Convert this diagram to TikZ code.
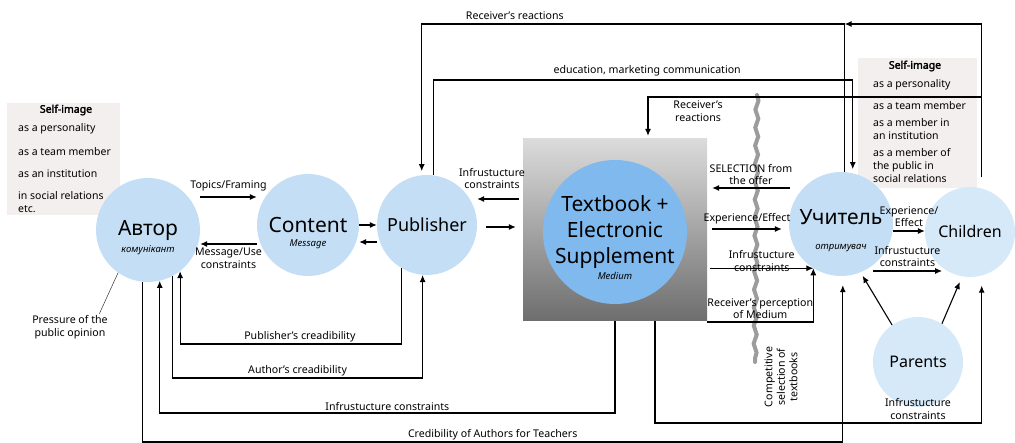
\documentclass[tikz,border=0pt]{standalone}
\usepackage{fontspec}
\setmainfont{Noto Sans}[AutoFakeBold=2.5]
\usetikzlibrary{positioning, arrows.meta, decorations.pathmorphing}
\definecolor{bubble}{HTML}{C4DFF5}
\definecolor{bubblelt}{HTML}{D6E9F9}
\definecolor{mediumblue}{HTML}{80B9EE}
\definecolor{selfbg}{HTML}{F3EFEE}
\definecolor{wavegray}{HTML}{9C9C9C}

\begin{document}
\begin{tikzpicture}[x=1pt, y=-1pt,
    bub/.style={circle, fill=bubble, inner sep=0pt},
    bublt/.style={circle, fill=bubblelt, inner sep=0pt},
    big/.style={font=\fontsize{21}{25}\selectfont},
    sub/.style={font=\fontsize{9.5}{11}\selectfont\itshape},
    lbl/.style={font=\fontsize{10.6}{12.5}\selectfont, align=center, inner sep=1.5pt},
    selfbox/.style={fill=selfbg, inner sep=0pt},
    selfhd/.style={font=\fontsize{10.5}{12}\selectfont\bfseries, inner sep=0pt},
    selfit/.style={font=\fontsize{10.5}{13}\selectfont, anchor=west, align=left, inner sep=0pt},
    arr/.style={line width=1.1pt, -{Latex[length=7pt,width=6pt]}},
    thinln/.style={line width=0.5pt, draw=black!80}]

  \useasboundingbox (0,0) rectangle (1015,443);

  % rows of the connectors
  \coordinate (rowR) at (0,24);
  \coordinate (rowEd) at (0,80);
  \coordinate (rowRR) at (0,97);
  \coordinate (rowS) at (0,188);
  \coordinate (rowT) at (0,197);
  \coordinate (rowIP) at (0,199);
  \coordinate (rowPT) at (0,227);
  \coordinate (rowE) at (0,229);
  \coordinate (rowCE) at (0,231);
  \coordinate (rowPC) at (0,242);
  \coordinate (rowM) at (0,244);
  \coordinate (rowCI) at (0,271);
  \coordinate (rowRP) at (0,322);
  \coordinate (rowP) at (0,344);
  \coordinate (rowA) at (0,378);
  \coordinate (rowI) at (0,413);
  \coordinate (rowTC) at (0,423);
  \coordinate (rowC) at (0,442);

  % self-image boxes
  \node[selfbox, minimum width=113pt, minimum height=112pt] (selfA) at (63.5,159) {};
  \node[selfhd] (selfAh) at (66,110) {Self-image};
  \node[selfit] (selfA1) at (18,129) {as a personality};
  \node[selfit] (selfA2) at (18,152) {as a team member};
  \node[selfit] (selfA3) at (18,174) {as an institution};
  \node[selfit] (selfA4) at (18,202) {in social relations\\etc.};

  \node[selfbox, minimum width=119pt, minimum height=130pt] (selfU) at (917.5,123) {};
  \node[selfhd] (selfUh) at (915,66) {Self-image};
  \node[selfit] (selfU1) at (873,85) {as a personality};
  \node[selfit] (selfU2) at (873,106) {as a team member};
  \node[selfit] (selfU3) at (873,129.5) {as a member in\\an institution};
  \node[selfit] (selfU4) at (873,166) {as a member of\\the public in\\social relations};

  % circles
  \node[bub, big, minimum size=104pt, label={[sub, yshift=-20pt]center:комунікант}] (avtor) at (148,230) {Автор};
  \node[bub, big, minimum size=102pt, label={[sub, yshift=-19pt]center:Message}] (content) at (308,225) {Content};
  \node[bub, font=\fontsize{18}{21}\selectfont, minimum size=100pt] (publisher) at (427,225) {Publisher};
  \node[minimum width=184pt, minimum height=182pt, top color=black!14, bottom color=black!57] (tbox) at (615,230) {};
  \node[circle, fill=mediumblue, inner sep=0pt, minimum size=144pt, align=center,
        font=\fontsize{21}{26}\selectfont,
        label={[sub, yshift=-44pt]center:Medium}] (medium) at (615,232) {Textbook +\\Electronic\\Supplement};
  \node[bub, minimum size=104pt, label={[big, yshift=7pt]center:Учитель}, label={[sub, yshift=-24pt]center:отримувач}] (uchytel) at (841,224) {};
  \node[bublt, font=\fontsize{16}{19}\selectfont, minimum size=90pt] (children) at (970,232) {Children};
  \node[bublt, font=\fontsize{16}{19}\selectfont, minimum size=90pt] (parents) at (918,362) {Parents};
  \node[lbl] (parlbl) at ([yshift=-2pt]parents.south) {Infrustucture\\constraints};

  % competitive selection
  \coordinate (wtop) at (757,95);
  \coordinate (wbot) at (755,362);
  \draw[wavegray, line width=4pt, line cap=round, decorate, decoration={snake, amplitude=1.5pt, segment length=18pt}] (wtop) -- (wbot);
  \node[lbl, rotate=90] (compet) at (781,377) {Competitive\\selection of\\textbooks};

  % pressure
  \node[lbl] (pressure) at (70,327) {Pressure of the\\public opinion};
  \draw[thinln] ([xshift=-10pt]pressure.north east) -- (avtor.-125);

  % author - content - publisher
  \draw[arr] (avtor.east |- rowT) -- (content.west |- rowT) node[lbl, midway, above=4pt] {Topics/Framing};
  \draw[arr] (content.west |- rowM) -- (avtor.east |- rowM) node[lbl, midway, below=2pt] {Message/Use\\constraints};
  \draw[arr] (content.east) -- (publisher.west);
  \draw[arr] (publisher.west |- rowPC) -- (content.east |- rowPC);
  \draw[arr] ([xshift=-4pt]tbox.west |- rowIP) -- (publisher.east |- rowIP) node[lbl, midway, above=8pt, xshift=-6pt] {Infrustucture\\constraints};
  \draw[arr] ([xshift=9pt]publisher.east |- rowPT) -- ([xshift=-7pt]tbox.west |- rowPT);

  % textbook - teacher
  \draw[arr] ([xshift=1pt]uchytel.west |- rowS) -- ([xshift=5pt]tbox.east |- rowS) node[lbl, midway, above=1pt] {SELECTION from\\the offer};
  \draw[arr] ([xshift=5pt]tbox.east |- rowE) -- ([xshift=-7pt]uchytel.west |- rowE) node[lbl, midway, above=3pt] {Experience/Effect};
  \draw[arr] ([xshift=3pt]tbox.east |- uchytel.-122) -- (uchytel.-122) node[lbl, midway, above=-5pt] {Infrustucture\\constraints};
  \draw[arr] (tbox.east |- rowRP) -| (uchytel.-122) node[lbl, pos=0.25, above=1pt] {Receiver's perception\\of Medium};

  % teacher - children - parents
  \draw[arr] (uchytel.east |- rowCE) -- (children.west |- rowCE) node[lbl, midway, above=2pt] {Experience/\\Effect};
  \draw[arr] ([xshift=-5pt]uchytel.south east |- rowCI) -- ([xshift=4pt]children.south west |- rowCI) node[lbl, midway, above=2pt] {Infrustucture\\constraints};
  \draw[arr, shorten >=4pt] (parents.125) -- (uchytel.-68);
  \draw[arr, shorten >=6pt] (parents.58) -- (children.-100);

  % feedback on top
  \draw[arr] ([yshift=11pt]children.75) |- (uchytel.86 |- rowR);
  \draw[arr, shorten >=4pt] (uchytel.86) |- node[lbl, pos=0.89, above=2pt] {Receiver's reactions} (publisher.96 |- rowR) -- (publisher.96);
  \draw[arr, shorten >=4pt] (publisher.83) |- node[lbl, pos=0.755, above=2pt] {education, marketing communication} (uchytel.77 |- rowEd) -- (uchytel.77);
  \draw[arr, shorten >=3pt] (children.75 |- rowRR) -| node[lbl, pos=0.425, below=2pt] {Receiver's\\reactions} ([xshift=33pt]tbox.north);

  % feedback at the bottom
  \draw[arr] (publisher.-120) |- node[lbl, pos=0.73, above] {Publisher's creadibility} (avtor.-52 |- rowP) -- (avtor.-52);
  \draw[arr] (avtor.-62) |- node[lbl, pos=0.75, above] {Author's creadibility} (publisher.-95 |- rowA) -- (publisher.-95);
  \draw[arr] (tbox.south) |- node[lbl, pos=0.75, above] {Infrustucture constraints} (avtor.-77 |- rowI) -- (avtor.-77);
  \draw[arr, shorten >=10pt] ([xshift=40pt]tbox.south) |- (children.-75 |- rowTC) -- (children.-75);
  \draw[arr, shorten >=9pt] (avtor.-96) |- node[lbl, pos=0.75, above] {Credibility of Authors for Teachers} (uchytel.-88 |- rowC) -- (uchytel.-88);
\end{tikzpicture}
\end{document}
